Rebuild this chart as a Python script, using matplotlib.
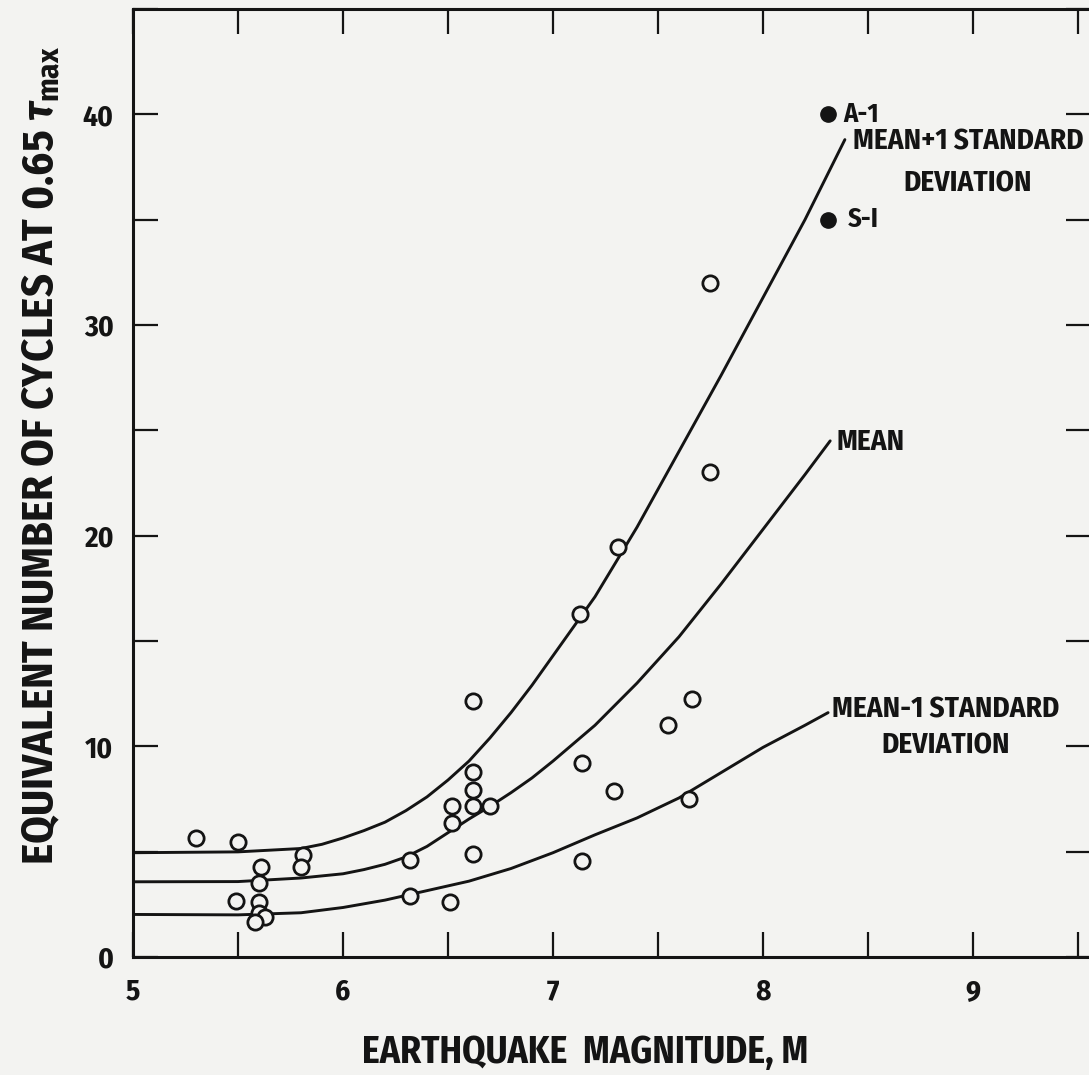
import matplotlib
matplotlib.use("Agg")
import matplotlib.pyplot as plt
from matplotlib.ticker import MultipleLocator, FixedLocator

FONT = "Fira Sans Condensed"
plt.rcParams["font.family"] = [FONT, "DejaVu Sans"]
plt.rcParams["font.weight"] = "bold"
plt.rcParams["mathtext.fontset"] = "custom"
plt.rcParams["mathtext.rm"] = FONT + ":bold"
plt.rcParams["mathtext.it"] = FONT + ":italic:bold"
plt.rcParams["mathtext.fallback"] = "stixsans"

INK = "#141414"
PAPER = "#f3f3f1"

# field records (open circles)
magnitude = [5.30, 5.50, 5.81, 5.80, 5.61, 5.60, 5.49, 5.60, 5.60, 5.63, 5.58,
             6.32, 6.32, 6.51, 6.62, 6.52, 7.14, 7.13, 6.62, 7.66, 7.55, 7.14,
             7.29, 7.65, 6.62, 6.62, 6.62, 6.52, 6.70, 7.75, 7.75, 7.31]
cycles = [5.64, 5.46, 4.83, 4.28, 4.28, 3.49, 2.65, 2.62, 2.10, 1.91, 1.67,
          4.60, 2.89, 2.62, 4.87, 6.36, 4.56, 16.3, 12.15, 12.26, 11.0, 9.23,
          7.87, 7.52, 8.78, 7.95, 7.16, 7.19, 7.16, 32.0, 23.0, 19.45]

# design events (filled dots)
event_names = ["A-1", "S-I"]
event_mag = [8.31, 8.31]
event_cycles = [40.0, 35.0]

# fitted curves
plus_mag = [5.0, 5.5, 5.8, 5.9, 6.0, 6.1, 6.2, 6.3, 6.4, 6.5, 6.6, 6.7, 6.8, 6.9,
            7.0, 7.2, 7.4, 7.6, 7.8, 8.0, 8.2, 8.39]
plus_sd = [4.95, 4.99, 5.15, 5.35, 5.65, 6.0, 6.4, 6.95, 7.6, 8.4, 9.3, 10.4, 11.6,
           12.9, 14.3, 17.1, 20.4, 24.0, 27.6, 31.3, 35.0, 38.8]
mean_mag = [5.0, 5.5, 5.8, 5.9, 6.0, 6.1, 6.2, 6.3, 6.4, 6.5, 6.6, 6.7, 6.8, 6.9,
            7.0, 7.2, 7.4, 7.6, 7.8, 8.0, 8.2, 8.32]
mean = [3.57, 3.58, 3.75, 3.85, 3.95, 4.15, 4.4, 4.75, 5.25, 5.9, 6.55, 7.15, 7.8,
        8.5, 9.3, 11.0, 13.0, 15.2, 17.7, 20.3, 22.9, 24.5]
minus_mag = [5.0, 5.5, 5.8, 6.0, 6.2, 6.4, 6.6, 6.8, 7.0, 7.2, 7.4, 7.6, 7.8, 8.0,
             8.2, 8.31]
minus_sd = [2.02, 2.0, 2.1, 2.35, 2.7, 3.15, 3.6, 4.2, 4.95, 5.8, 6.6, 7.55, 8.75,
            9.95, 11.0, 11.6]

fig = plt.figure(figsize=(10.89, 10.75), dpi=100, facecolor=PAPER)
ax = fig.add_axes([133 / 1089, 118 / 1075, 958 / 1089, 948 / 1075], facecolor=PAPER)

for xs, ys in [(plus_mag, plus_sd), (mean_mag, mean), (minus_mag, minus_sd)]:
    ax.plot(xs, ys, color=INK, lw=2.1, solid_capstyle="round",
            solid_joinstyle="round", zorder=2)

ax.plot(magnitude, cycles, "o", ms=11, mfc=PAPER, mec=INK, mew=2.0, zorder=3)
ax.plot(event_mag, event_cycles, "o", ms=11, color=INK, zorder=3)

for name, xm, yc, dx in zip(event_names, event_mag, event_cycles, [11, 14]):
    ax.annotate(name, (xm, yc), xytext=(dx, 0), textcoords="offset points",
                ha="left", va="center", fontsize=19, color=INK)

ax.text(8.976, 37.7, "MEAN+1 STANDARD\nDEVIATION", ha="center", va="center",
        fontsize=21, color=INK, linespacing=1.65, multialignment="center")
ax.text(8.352, 24.44, "MEAN", ha="left", va="center", fontsize=21, color=INK)
ax.text(8.871, 10.89, "MEAN-1 STANDARD\nDEVIATION", ha="center", va="center",
        fontsize=21, color=INK, linespacing=1.35, multialignment="center")

ax.set_xlim(5, 9.562)
ax.set_ylim(0, 45)
ax.xaxis.set_major_locator(FixedLocator([5, 6, 7, 8, 9]))
ax.xaxis.set_minor_locator(MultipleLocator(0.5))
ax.yaxis.set_major_locator(FixedLocator([0, 10, 20, 30, 40]))
ax.yaxis.set_minor_locator(MultipleLocator(5))

for side in ax.spines.values():
    side.set_linewidth(2.2)
    side.set_color(INK)

ax.tick_params(which="both", direction="in", length=18, width=1.6, colors=INK,
               top=True, right=True)
ax.tick_params(axis="x", which="major", pad=15, labelsize=21)
ax.tick_params(axis="y", which="major", pad=14, labelsize=21)

fig.text(585 / 1089, 22 / 1075, "EARTHQUAKE  MAGNITUDE, M", ha="center",
         va="center", fontsize=27, color=INK)
fig.text(42 / 1089, 1 - 455 / 1075,
         r"EQUIVALENT NUMBER OF CYCLES AT 0.65 $\it{\tau}_{\rm{max}}$",
         rotation=90, ha="center", va="center", fontsize=32, color=INK)

fig.savefig("out.png", dpi=100, facecolor=PAPER)
